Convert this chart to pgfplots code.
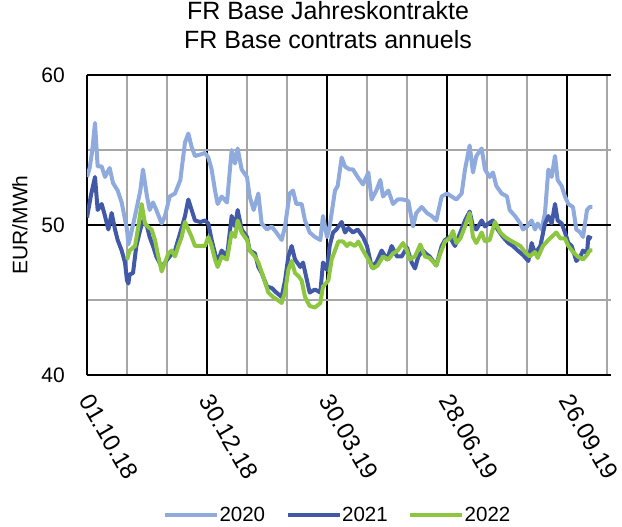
\documentclass[border=0pt]{standalone}
\usepackage{fontspec}
\setmainfont{Liberation Sans}
\usepackage{pgfplots}
\pgfplotsset{compat=1.18}
\definecolor{c2020}{HTML}{8FAADC}
\definecolor{c2021}{HTML}{4159A6}
\definecolor{c2022}{HTML}{8DC63F}
\definecolor{gridgray}{HTML}{A6A6A6}
\begin{document}
\begin{tikzpicture}
\begin{axis}[
 scale only axis, width=524pt, height=300pt,
 xmin=0, xmax=393, ymin=40, ymax=60,
 axis x line*=bottom, axis y line*=left,
 axis line style={-, line width=1.3pt, black},
 xtick={0,90,180,270,360},
 xticklabels={01.10.18,30.12.18,30.03.19,28.06.19,26.09.19},
 minor xtick={30,60,120,150,210,240,300,330,390},
 ytick={40,50,60}, minor ytick={45,55},
 grid=both,
 major grid style={black, line width=1.3pt},
 minor grid style={gridgray, line width=1.3pt},
 major tick length=0pt, minor tick length=0pt,
 /pgf/number format/assume math mode=true,
 yticklabel style={font=\fontsize{21}{25}\selectfont, anchor=east, inner sep=0pt, xshift=-22pt},
 xticklabel style={font=\fontsize{24}{28}\selectfont, xshift=6pt, yshift=-17pt, rotate=-60, anchor=north west, inner sep=0pt},
 title={FR Base Jahreskontrakte\\FR Base contrats annuels},
 title style={at={(axis description cs:0.46,1)}, anchor=south, yshift=20pt, align=center, font=\fontsize{25}{29}\selectfont, inner sep=0pt},
 ylabel={EUR/MWh},
 ylabel style={at={(axis description cs:-0.128,0.5)}, anchor=center, font=\fontsize{21}{25}\selectfont, inner sep=0pt},
 legend style={at={(axis description cs:0.477,-0.467)}, anchor=center, draw=none, legend columns=3, font=\fontsize{20.5}{24}\selectfont, /tikz/every even column/.append style={column sep=20pt}, nodes={inner sep=0.5pt}},
 legend image code/.code={\draw[#1, line width=4pt] (0pt,0pt) -- (52pt,0pt);},
 no markers,
 every axis plot/.append style={line width=4pt, line join=round},
]
\addplot[c2020] coordinates {
(0,53.2)(2,53.8)(4,55.0)(6,56.8)(8,53.9)(11,53.9)(13.5,53.2)(17,53.8)(19.5,52.8)(23,52.3)(26,51.5)(30,49.7)(31,48.7)(32,49.0)(36,50.6)(40,52.3)(42,53.7)(45,51.9)(47,51.0)(49.5,51.5)(52,51.0)(56,50.1)(58.5,50.6)(62,51.9)(66,52.1)(70,53.0)(73.5,55.5)(76,56.1)(78.5,55.2)(81,54.6)(85,54.7)(88.5,54.8)(91,54.5)(93.5,53.7)(96,52.3)(98,51.4)(101,51.9)(105,51.5)(108.5,55.0)(111,54.1)(113,55.1)(116,53.7)(120,53.2)(122,51.9)(125,51.0)(128.5,52.1)(131,50.1)(135,49.7)(138.5,49.9)(142,49.5)(146,49.0)(148.5,49.9)(152,52.1)(154.5,52.3)(157,51.4)(161,51.4)(163.5,50.3)(167,49.5)(171,49.2)(175,49.0)(177,50.6)(180,49.2)(182,49.9)(186,52.3)(188,52.6)(191,54.5)(193.5,53.9)(197,53.7)(199.5,53.7)(203,53.2)(207,52.7)(211,53.5)(213.5,51.7)(217,52.3)(220,53.0)(222,51.9)(226,52.3)(229.5,51.4)(233,51.7)(237,51.7)(241,51.6)(244.5,49.9)(247,50.8)(251,51.2)(255,50.8)(258.5,50.6)(262,50.3)(266,51.9)(270,52.1)(273.5,51.9)(277,51.7)(281,52.1)(283.5,53.7)(287,55.3)(289.5,53.5)(292,54.6)(296,55.1)(298.5,53.7)(302,53.2)(304.5,53.5)(307,52.6)(311,52.1)(315,51.9)(317,51.0)(321,50.6)(325,50.1)(327,49.7)(330,49.9)(333.5,50.3)(336,49.7)(338,50.1)(341,49.7)(343.5,50.8)(346,53.7)(348.5,53.2)(351,54.6)(353,53.0)(356,52.6)(358.5,51.9)(361,51.4)(364.5,51.2)(367,49.7)(370,49.5)(372,49.2)(375,51.0)(377,51.2)(379,51.2)
};
\addlegendentry{2020}
\addplot[c2021] coordinates {
(0,50.5)(3,52.0)(6,53.2)(8,51.0)(11,51.4)(13.5,50.6)(16,49.7)(18.5,50.8)(21,49.7)(23,49.0)(26,48.3)(28.5,47.5)(30,46.3)(31,46.1)(32,46.7)(34.5,46.8)(37,48.6)(40,49.7)(42,50.3)(45,49.9)(47,49.2)(49.5,48.6)(52,47.9)(56,47.2)(58.5,47.5)(62,47.9)(66,48.3)(70,49.5)(73.5,50.6)(76,51.7)(78.5,51.0)(81,50.3)(85,50.2)(88.5,50.3)(91,50.1)(93.5,49.0)(96,48.1)(98,47.5)(101,48.3)(105,47.9)(108.5,50.6)(111,49.9)(113,51.0)(116,49.7)(120,49.2)(122,48.3)(126,48.1)(128.5,47.2)(131,46.8)(135,45.9)(138.5,45.8)(142,45.5)(146,45.2)(148.5,46.3)(151,47.9)(153.5,48.6)(156,47.7)(160,47.2)(162,47.5)(165,46.3)(167,45.5)(171,45.7)(175,45.5)(177,47.5)(180,47.0)(182,48.6)(184.5,49.5)(187,49.7)(191,50.2)(193.5,49.5)(196,49.8)(199.5,49.5)(203,49.7)(207,49.2)(210,48.6)(213.5,47.2)(217,47.5)(221,48.3)(225,47.7)(228.5,48.6)(232.5,47.9)(236,47.9)(240,48.5)(243.5,47.5)(246,47.1)(248.5,47.9)(252,48.3)(254,48.1)(257,47.9)(262,47.3)(266,48.6)(268.5,49.0)(272,49.2)(276,48.6)(280,49.5)(283.5,50.3)(287,50.9)(289.5,49.9)(292,49.7)(296,50.3)(298.5,49.9)(301,50.1)(304.5,50.3)(308,49.7)(312,49.2)(316,48.8)(319.5,48.6)(323,48.3)(327,48.0)(331,47.6)(333.5,48.8)(336,48.1)(340,48.6)(343.5,50.1)(346,50.6)(348.5,50.1)(351,51.4)(353,50.3)(356,50.1)(358.5,49.5)(361,48.8)(363.5,48.6)(367,47.6)(370,47.9)(372,48.3)(375,48.1)(376,49.2)(378.5,49.1)
};
\addlegendentry{2021}
\addplot[c2022] coordinates {
(30,47.7)(32,48.3)(36,48.6)(38.5,49.9)(41,51.4)(43.5,50.1)(45.5,49.9)(48.5,49.7)(51,49.0)(53,48.1)(56,46.9)(58.5,47.5)(61,48.1)(63.5,48.3)(66,47.9)(68.5,48.6)(71,49.2)(73.5,50.2)(76,49.7)(78.5,49.2)(81,48.6)(85,48.6)(88.5,48.6)(91,49.2)(93.5,48.6)(96,47.7)(98,47.2)(101,47.9)(105,47.7)(108.5,49.5)(111,49.2)(113,50.3)(116,49.5)(120,49.0)(122,48.3)(126,47.9)(128.5,47.5)(132,46.6)(136,45.5)(139.5,45.2)(143,45.0)(146,44.8)(148.5,45.5)(151,47.0)(153.5,47.6)(156,46.8)(158.5,46.6)(161,46.3)(163.5,45.2)(167,44.6)(171,44.5)(175,44.8)(177,45.9)(181,46.3)(183.5,47.7)(186,48.3)(188.5,48.9)(192,48.9)(195,48.6)(197,48.8)(201,48.6)(203.5,48.9)(207,48.3)(211,47.7)(214.5,47.1)(218,47.3)(222,47.9)(226,47.7)(229.5,48.1)(233,48.3)(237,48.8)(240,48.3)(242,47.7)(246,47.9)(250,48.7)(253.5,47.9)(257,47.8)(262,47.3)(265,48.1)(268.5,48.9)(272,49.1)(274.5,49.6)(277,48.8)(280,49.1)(283.5,49.9)(287,50.8)(289.5,49.2)(292,48.8)(296,49.5)(298.5,48.9)(302,49.0)(306,50.2)(310,49.5)(313.5,49.2)(317,49.0)(321,48.8)(325,48.6)(328.5,48.2)(332,47.9)(336,48.2)(338,47.8)(342,48.6)(346,49.0)(349.5,49.3)(352,49.5)(355,49.1)(358.5,49.1)(361,48.6)(364.5,48.2)(368,47.9)(372,47.7)(375,48.0)(377,48.3)(379,48.3)
};
\addlegendentry{2022}
\end{axis}
\pgfresetboundingbox
\useasboundingbox (-87pt,-152pt) rectangle (535pt,375pt);
\end{tikzpicture}
\end{document}
